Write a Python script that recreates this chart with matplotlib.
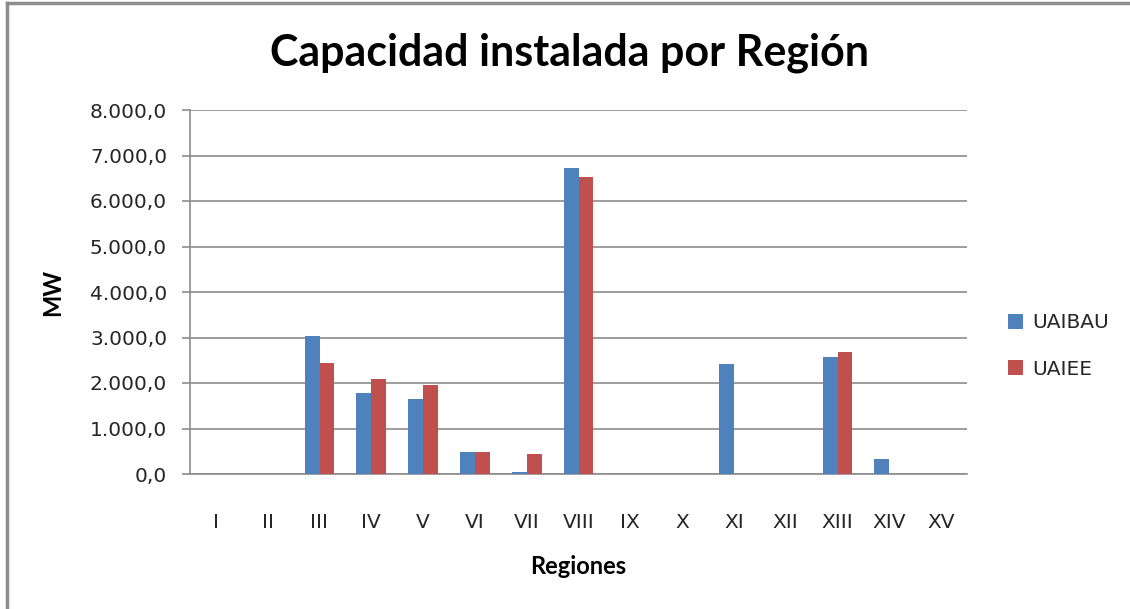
import matplotlib.pyplot as plt
from matplotlib.lines import Line2D
from matplotlib.ticker import FuncFormatter
import numpy as np

# data
regiones = ["I", "II", "III", "IV", "V", "VI", "VII", "VIII", "IX", "X",
            "XI", "XII", "XIII", "XIV", "XV"]
uaibau = [0, 0, 3030, 1787, 1648, 491, 37, 6725, 0, 0, 2411, 0, 2565, 323, 0]
uaiee = [0, 0, 2432, 2081, 1949, 491, 432, 6527, 0, 0, 0, 0, 2675, 0, 0]

blue = "#4F81BD"
red = "#C0504D"
grid_col = "#8C8C8C"

fig = plt.figure(figsize=(11.3, 6.09), dpi=100)
ax = fig.add_axes([190/1130, 1-474/609, 777/1130, 364/609])

x = np.arange(len(regiones))
w = 0.286
ax.bar(x - w/2, uaibau, w, color=blue, label="UAIBAU", zorder=3)
ax.bar(x + w/2, uaiee, w, color=red, label="UAIEE", zorder=3)

ax.set_xlim(-0.5, len(regiones) - 0.5)
ax.set_ylim(0, 8000)
ax.set_yticks(np.arange(0, 8001, 1000))
fmt = lambda v, p: "{:,.1f}".format(v).replace(",", "X").replace(".", ",").replace("X", ".")
ax.yaxis.set_major_formatter(FuncFormatter(fmt))
ax.set_xticks(x)
ax.set_xticklabels(regiones)
ax.tick_params(axis="both", labelsize=14.5, labelcolor="#262626")
ax.tick_params(axis="x", length=0, pad=28)
ax.tick_params(axis="y", direction="out", length=5.5, width=1.2, color=grid_col, pad=11)
ax.grid(axis="y", color=grid_col, linewidth=1.2, zorder=0)
for s in ["top", "right"]:
    ax.spines[s].set_visible(False)
for s in ["bottom", "left"]:
    ax.spines[s].set_color(grid_col)
    ax.spines[s].set_linewidth(1.2)

ax.set_ylabel("MW", fontsize=17, fontweight="bold", family="Lato")
ax.yaxis.set_label_coords((64-190)/777, 0.5)
ax.set_xlabel("Regiones", fontsize=17, fontweight="bold", family="Lato")
ax.xaxis.set_label_coords(0.5, -(555-474)/364)
fig.text(570/1130, 1-53/609, "Capacidad instalada por Región", ha="center", va="center",
         fontsize=31, fontweight="bold", family="Lato")

fig.legend(loc="center left", bbox_to_anchor=(990/1130, 1-346/609), frameon=False,
           fontsize=14.5, handlelength=0.75, handleheight=0.75, labelspacing=1.35,
           handletextpad=0.45, labelcolor="#262626")

# chart frame (only top and left edges visible in the crop)
fig.add_artist(Line2D([7/1130, 7/1130], [0, 1-3/609], transform=fig.transFigure,
                      color="#8C8C8C", linewidth=2.5))
fig.add_artist(Line2D([7/1130, 1], [1-3/609, 1-3/609], transform=fig.transFigure,
                      color="#8C8C8C", linewidth=2.5))

fig.savefig("out.png", dpi=100)
